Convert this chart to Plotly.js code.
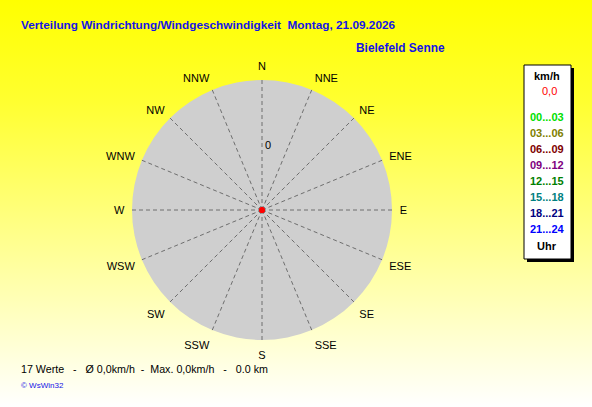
<!DOCTYPE html>
<html>
<head>
<meta charset="utf-8">
<script src="https://cdn.plot.ly/plotly-3.0.1.min.js"></script>
<style>
  html, body { margin: 0; padding: 0; }
  body { width: 592px; height: 407px; background: linear-gradient(to bottom, #ffff00 0%, #ffff30 25%, #ffffff 100%); }
  #plot { width: 592px; height: 407px; }
</style>
</head>
<body>
<div id="plot"></div>
<script>
// chart data
const titleText = 'Verteilung Windrichtung/Windgeschwindigkeit  Montag, 21.09.2026';
const stationName = 'Bielefeld Senne';
const directions = ['N', 'NNE', 'NE', 'ENE', 'E', 'ESE', 'SE', 'SSE',
                    'S', 'SSW', 'SW', 'WSW', 'W', 'WNW', 'NW', 'NNW'];
// 17 measurements, all calm
const speeds = [0, 0, 0, 0, 0, 0, 0, 0, 0, 0, 0, 0, 0, 0, 0, 0, 0];
const pointDirs = ['N', 'N', 'N', 'N', 'N', 'N', 'N', 'N', 'N', 'N', 'N', 'N', 'N', 'N', 'N', 'N', 'N'];
const radialMax = 2;
const ringValue = 1;      // where the "0" scale label sits
const ringLabel = '0';
const legendLabels = ['00...03', '03...06', '06...09', '09...12', '12...15', '15...18', '18...21', '21...24'];
const legendColors = ['#00e000', '#808000', '#800000', '#800080', '#008000', '#008080', '#000080', '#0000ff'];
const distanceKm = 0.0;

const W = 592, H = 407;
const px = x => x / W;
const py = y => 1 - y / H;
const FONT = 'Arial, "Liberation Sans", sans-serif';

// polar placement (pixels)
const cx = 262, cy = 210, rad = 130;

const avg = speeds.reduce((a, b) => a + b, 0) / speeds.length;
const max = Math.max(...speeds);
const fmt = v => v.toFixed(1).replace('.', ',');

const data = [{
    type: 'scatterpolar',
    r: speeds,
    theta: pointDirs,
    mode: 'markers',
    marker: {color: '#ff0000', size: 5},
    hoverinfo: 'none'
}];
// categories need to exist on the angular axis
data.push({type: 'scatterpolar', r: directions.map(() => 0), theta: directions, mode: 'none', hoverinfo: 'none'});

const annotations = [
    {text: '<b>' + titleText + '</b>', x: px(19), y: py(25), xanchor: 'left', yanchor: 'middle',
     font: {family: FONT, size: 11.8, color: '#1414e6'}},
    {text: '<b>' + stationName + '</b>', x: px(354), y: py(48), xanchor: 'left', yanchor: 'middle',
     font: {family: FONT, size: 11.9, color: '#1414e6'}},
    {text: ringLabel, x: px(cx + 6), y: py(cy - rad * ringValue / radialMax), xanchor: 'center', yanchor: 'middle',
     font: {family: FONT, size: 11, color: '#000000'}},
    {text: '<b>km/h</b>', x: px(547), y: py(76), xanchor: 'center', yanchor: 'middle',
     font: {family: FONT, size: 11, color: '#000000'}},
    {text: fmt(max), x: px(549), y: py(91), xanchor: 'center', yanchor: 'middle',
     font: {family: FONT, size: 11, color: '#ff0000'}},
    {text: '<b>Uhr</b>', x: px(547), y: py(246), xanchor: 'center', yanchor: 'middle',
     font: {family: FONT, size: 11, color: '#000000'}},
    {text: speeds.length + ' Werte   -   Ø ' + fmt(avg) + 'km/h  -  Max. ' + fmt(max) + 'km/h   -   ' + distanceKm.toFixed(1) + ' km',
     x: px(19), y: py(369), xanchor: 'left', yanchor: 'middle',
     font: {family: FONT, size: 10.7, color: '#000000'}},
    {text: '© WsWin32', x: px(19), y: py(385), xanchor: 'left', yanchor: 'middle',
     font: {family: FONT, size: 8, color: '#1414e6'}}
];
legendLabels.forEach((lab, i) => {
    annotations.push({text: '<b>' + lab + '</b>', x: px(547), y: py(117 + i * 16), xanchor: 'center', yanchor: 'middle',
        font: {family: FONT, size: 11, color: legendColors[i]}});
});
annotations.forEach(a => { a.xref = 'paper'; a.yref = 'paper'; a.showarrow = false; });

const shapes = [
    // legend box shadow and box
    {type: 'rect', xref: 'paper', yref: 'paper', x0: px(527), x1: px(574), y0: py(68), y1: py(262),
     fillcolor: '#000000', line: {width: 0}},
    {type: 'rect', xref: 'paper', yref: 'paper', x0: px(524), x1: px(571), y0: py(65), y1: py(259),
     fillcolor: '#ffffff', line: {color: '#000000', width: 1}}
];

const layout = {
    width: W, height: H,
    margin: {l: 0, r: 0, t: 0, b: 0},
    paper_bgcolor: 'rgba(0,0,0,0)',
    showlegend: false,
    font: {family: FONT, size: 11, color: '#000000'},
    polar: {
        domain: {x: [px(cx - rad), px(cx + rad)], y: [py(cy + rad), py(cy - rad)]},
        bgcolor: '#cfcfcf',
        angularaxis: {
            type: 'category',
            categoryarray: directions,
            categoryorder: 'array',
            direction: 'clockwise',
            rotation: 90,
            showline: false,
            ticks: 'outside',
            ticklen: 5,
            tickcolor: 'rgba(0,0,0,0)',
            showgrid: true,
            gridcolor: '#6e6e6e',
            griddash: '4px,3px',
            gridwidth: 1,
            tickfont: {family: FONT, size: 11, color: '#000000'}
        },
        radialaxis: {
            range: [0, radialMax],
            angle: 90,
            showticklabels: false,
            showgrid: false,
            showline: false,
            ticks: ''
        }
    },
    shapes: shapes,
    annotations: annotations
};

Plotly.newPlot('plot', data, layout, {staticPlot: true});
</script>
</body>
</html>
